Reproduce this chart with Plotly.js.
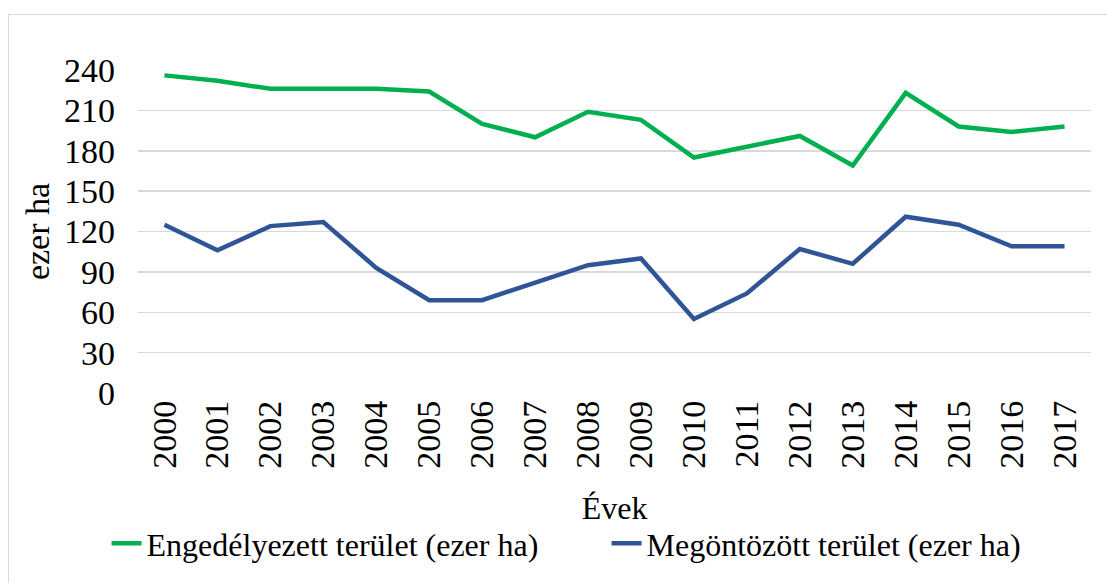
<!DOCTYPE html>
<html>
<head>
<meta charset="utf-8">
<script src="https://cdn.plot.ly/plotly-3.0.1.min.js"></script>
<style>
html,body{margin:0;padding:0;background:#fff;}
#wrap{position:relative;width:1107px;height:583px;overflow:hidden;}
#chart{width:1107px;height:583px;}
#frame{position:absolute;left:8px;top:14px;width:1200px;height:700px;border:1px solid #d9d9d9;pointer-events:none;}
</style>
</head>
<body>
<div id="wrap"><div id="chart"></div><div id="frame"></div></div>
<script>
const years = ["2000","2001","2002","2003","2004","2005","2006","2007","2008","2009","2010","2011","2012","2013","2014","2015","2016","2017"];
const engedelyezett = [236, 232, 226, 226, 226, 224, 200, 190, 209, 203, 175, 183, 191, 169, 223, 198, 194, 198];
const megontozott = [125, 106, 124, 127, 93, 69, 69, 82, 95, 100, 55, 74, 107, 96, 131, 125, 109, 109];
const seriesNames = ["Engedélyezett terület (ezer ha)", "Megöntözött terület (ezer ha)"];
const yTicks = [0, 30, 60, 90, 120, 150, 180, 210, 240];

const fam = "'Times New Roman', 'Liberation Serif', 'DejaVu Serif', serif";
const tickFont = {family: fam, color: "#000", size: 34};
const legendFont = {family: fam, color: "#000", size: 32};
const xTitleFont = {family: fam, color: "#000", size: 32};
const yTitleFont = {family: fam, color: "#000", size: 34};

const traces = [
  {x: years, y: engedelyezett, name: seriesNames[0], type: "scatter", mode: "lines",
   line: {color: "#00B050", width: 4.5}},
  {x: years, y: megontozott, name: seriesNames[1], type: "scatter", mode: "lines",
   line: {color: "#2F5597", width: 4.5}}
];

const layout = {
  width: 1107, height: 583,
  margin: {l: 138, r: 16, t: 70, b: 187},
  paper_bgcolor: "#fff", plot_bgcolor: "#fff",
  font: tickFont,
  showlegend: true,
  legend: {orientation: "h", x: -0.033, xanchor: "left", y: -0.466, yanchor: "middle",
           font: legendFont, bgcolor: "rgba(0,0,0,0)", entrywidth: 455, entrywidthmode: "pixels",
           tracegroupgap: 0},
  xaxis: {type: "category", range: [-0.5, years.length - 0.5], tickangle: -90,
          showgrid: false, zeroline: false,
          showline: false, ticks: "", tickfont: tickFont, automargin: false,
          title: {text: "Évek", font: xTitleFont, standoff: 28}},
  yaxis: {range: [0, 240], tickvals: yTicks, ticktext: yTicks.map(String),
          showgrid: true, gridcolor: "#d9d9d9", gridwidth: 1.5, zeroline: false,
          showline: false, ticks: "", tickfont: tickFont, automargin: false,
          ticklabelstandoff: 22,
          title: {text: "ezer ha", font: yTitleFont, standoff: 4}}
};

Plotly.newPlot("chart", traces, layout, {displayModeBar: false, staticPlot: true});
</script>
</body>
</html>
